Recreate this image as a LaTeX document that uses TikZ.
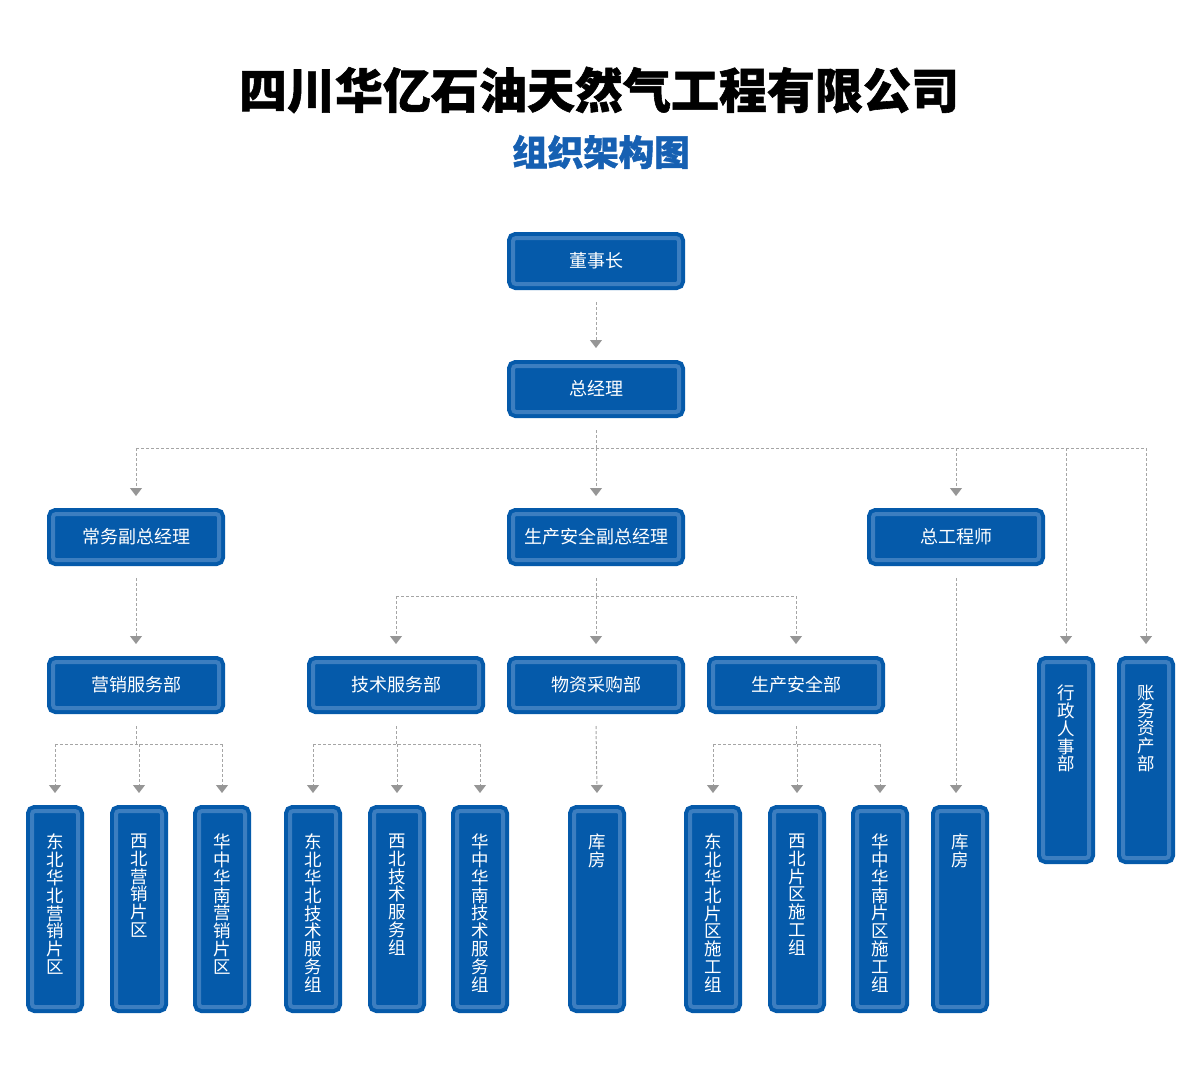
\documentclass[tikz,border=0pt]{standalone}
\usepackage{fontspec}
\newfontfamily\cjk{Noto Sans CJK SC}
\newfontfamily\cjkheavy[BoldFeatures={FakeBold=1.2}]{Noto Sans CJK SC}
\usetikzlibrary{arrows.meta,positioning,calc}

\definecolor{boxblue}{RGB}{5,90,170}
\definecolor{rimblue}{RGB}{60,126,192}
\definecolor{titleblue}{RGB}{22,96,178}
\definecolor{linegray}{RGB}{165,165,165}
\definecolor{tipgray}{RGB}{150,150,150}

% vertical label, top aligned inside the tall boxes
\newcommand{\coltext}[1]{\parbox[c][150pt][t]{1.2em}{\centering #1}}

\begin{document}
\begin{tikzpicture}[x=1pt, y=-1pt,
    box/.style={rectangle, rounded corners=3pt, fill=boxblue, draw=rimblue, line width=4pt,
    preaction={draw=boxblue, line width=12pt}, inner sep=0pt, outer sep=6pt,
    minimum width=166pt, minimum height=46pt, text=white, font=\cjk\fontsize{18}{18}\selectfont},
    tallbox/.style={box, minimum width=46pt, minimum height=196pt, anchor=north,
    font=\cjk\fontsize{17.5}{17.8}\selectfont},
    link/.style={draw=linegray, line width=1pt, dash pattern=on 3pt off 2pt},
    arr/.style={link, -{Triangle[width=12pt,length=8pt,color=tipgray]}}]
    \fill[white] (0,0) rectangle (1200,1076);

    \node (title) [font=\cjkheavy\bfseries\fontsize{48}{48}\selectfont] at (599,90) {四川华亿石油天然气工程有限公司};
    \node (subtitle) [font=\cjkheavy\bfseries\fontsize{35.5}{35.5}\selectfont, text=titleblue] at (601,152) {组织架构图};

    \node (chair) [box] at (596,261) {董事长};
    \node (gm) [box, below=70pt of chair] {总经理};
    \node (vp2) [box, below=90pt of gm] {生产安全副总经理};
    \node (vp1) [box, left=282pt of vp2] {常务副总经理};
    \node (ce) [box, right=182pt of vp2] {总工程师};

    \node (buy) [box, below=90pt of vp2] {物资采购部};
    \node (tech) [box, left=22pt of buy] {技术服务部};
    \node (safe) [box, right=22pt of buy] {生产安全部};
    \node (mkt) [box, below=90pt of vp1] {营销服务部};
    \node (admin) [tallbox] at (1066,656) {\coltext{行\\政\\人\\事\\部}};
    \node (fin) [tallbox] at (1146,656) {\coltext{账\\务\\资\\产\\部}};

    \foreach \x/\nm/\lbl in {55/mk1/东\\北\\华\\北\\营\\销\\片\\区, 139/mk2/西\\北\\营\\销\\片\\区,
        222/mk3/华\\中\\华\\南\\营\\销\\片\\区, 313/te1/东\\北\\华\\北\\技\\术\\服\\务\\组,
        397/te2/西\\北\\技\\术\\服\\务\\组, 480/te3/华\\中\\华\\南\\技\\术\\服\\务\\组,
        597/store1/库\\房, 713/sa1/东\\北\\华\\北\\片\\区\\施\\工\\组,
        797/sa2/西\\北\\片\\区\\施\\工\\组, 880/sa3/华\\中\\华\\南\\片\\区\\施\\工\\组,
        960/store2/库\\房}
        \node (\nm) [tallbox] at (\x,805) {\coltext{\lbl}};

    % top of the chart
    \draw[arr] ([yshift=-12pt]chair.south) -- ([yshift=12pt]gm.north);
    \coordinate (bus1) at ([yshift=-30pt]gm.south);
    \draw[link] ([yshift=-12pt]gm.south) -- (bus1);
    \draw[link] (bus1 -| vp1) -- (bus1 -| fin);
    \foreach \nm in {vp1,vp2,ce,admin,fin}
        \draw[arr] (bus1 -| \nm) -- ([yshift=12pt]\nm.north);

    % departments
    \draw[arr] ([yshift=-12pt]vp1.south) -- ([yshift=12pt]mkt.north);
    \coordinate (bus2) at ([yshift=-30pt]vp2.south);
    \draw[link] ([yshift=-12pt]vp2.south) -- (bus2);
    \draw[link] (bus2 -| tech) -- (bus2 -| safe);
    \foreach \nm in {tech,buy,safe}
        \draw[arr] (bus2 -| \nm) -- ([yshift=12pt]\nm.north);
    \draw[arr] ([yshift=-12pt]ce.south) -- ([yshift=12pt]store2.north -| ce);

    % groups
    \foreach \top/\a/\b/\c in {mkt/mk1/mk2/mk3, tech/te1/te2/te3, safe/sa1/sa2/sa3} {
        \coordinate (bus) at ([yshift=-30pt]\top.south);
        \draw[link] ([yshift=-12pt]\top.south) -- (bus);
        \draw[link] (bus -| \a) -- (bus -| \c);
        \foreach \nm in {\a,\b,\c}
            \draw[arr] (bus -| \nm) -- ([yshift=12pt]\nm.north);
    }
    \draw[arr] ([yshift=-12pt]buy.south) -- ([yshift=12pt]store1.north);
\end{tikzpicture}
\end{document}
